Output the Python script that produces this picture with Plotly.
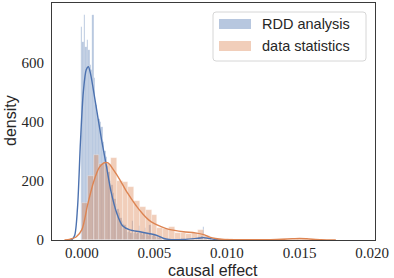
import plotly.graph_objects as go

# ---------------- data ----------------
rdd_bin_start = -0.00007
rdd_bin_width = 0.0001
rdd_density = [718, 670, 760, 650, 675, 640, 590, 575, 760, 546,
               455, 430, 410, 400, 380, 330, 300, 280, 250, 230,
               200, 185, 160, 140, 120, 105, 90, 75, 65, 55,
               50, 35, 28, 30, 22, 64, 25, 30, 20, 24,
               47, 22, 18, 25, 42, 20, 15, 50, 18, 12,
               20, 10, 15, 8, 10, 5, 0, 5, 0, 0,
               4, 0, 0, 0, 5, 0, 0, 0, 0, 4,
               0, 0, 0, 5, 0, 0, 6, 5, 0, 8,
               5, 10, 8, 12, 44, 6, 4]

stats_bin_start = 0.0
stats_bin_width = 0.0004
stats_density = [125, 215, 286, 256, 255, 276, 200, 195, 178, 130,
                 112, 102, 85, 42, 38, 44, 24, 24, 20, 24,
                 34, 15, 3, 2, 0, 2, 0, 0, 0, 0,
                 0, 0, 0, 0, 0, 0, 0, 3, 2]

rdd_kde_x = [-0.0010, -0.0007, -0.0005, -0.0003, -0.0001, 0.0001, 0.0003, 0.00045,
             0.0006, 0.0009, 0.00135, 0.0017, 0.0020, 0.0024, 0.0028, 0.0033,
             0.0040, 0.0046, 0.0052, 0.0056, 0.0060, 0.0070, 0.0080, 0.0084,
             0.0088, 0.0093, 0.0100]
rdd_kde_y = [0, 1, 15, 110, 330, 500, 575, 585,
             560, 475, 340, 247, 165, 91, 48, 34,
             28, 22, 15, 6, 2, 2, 6, 8,
             5, 1, 0]

stats_kde_x = [-0.0012, -0.0008, -0.0004, 0.0000, 0.0004, 0.0008, 0.0012, 0.0015,
               0.0018, 0.0022, 0.0026, 0.0030, 0.0034, 0.0038, 0.0042, 0.0046,
               0.0050, 0.0055, 0.0060, 0.0070, 0.0078, 0.0084, 0.0088, 0.0092,
               0.0098, 0.0110, 0.0130, 0.0145, 0.0150, 0.0155, 0.0165, 0.0175]
stats_kde_y = [0, 3, 10, 35, 120, 195, 245, 260,
               260, 235, 205, 170, 140, 112, 88, 68,
               55, 44, 36, 28, 24, 18, 10, 5,
               2, 1, 1, 4, 5, 4, 1, 0]

series_names = ["RDD analysis", "data statistics"]
x_title = "causal effect"
y_title = "density"
x_ticks = [0.000, 0.005, 0.010, 0.015, 0.020]
y_ticks = [0, 200, 400, 600]

# ---------------- styling ----------------
BLUE = "#4C72B0"
ORANGE = "#DD8452"
BLUE_FILL = "rgba(76,114,176,0.4)"
ORANGE_FILL = "rgba(221,132,82,0.4)"
TXT = "#262626"
SERIF = "'Liberation Serif', 'Times New Roman', serif"
SANS = "'Liberation Sans', Arial, sans-serif"

W, H = 394, 278
L, R, T, B = 52, 19, 3, 38

rdd_x = [rdd_bin_start + rdd_bin_width * (i + 0.5) for i in range(len(rdd_density))]
stats_x = [stats_bin_start + stats_bin_width * (i + 0.5) for i in range(len(stats_density))]

fig = go.Figure()
fig.add_trace(go.Bar(x=rdd_x, y=rdd_density, width=rdd_bin_width,
                     marker=dict(color=BLUE_FILL, line=dict(width=0.3, color="rgba(255,255,255,0.35)")),
                     name=series_names[0], showlegend=False))
fig.add_trace(go.Bar(x=stats_x, y=stats_density, width=stats_bin_width,
                     marker=dict(color=ORANGE_FILL, line=dict(width=0.6, color="rgba(255,255,255,0.5)")),
                     name=series_names[1], showlegend=False))
fig.add_trace(go.Scatter(x=rdd_kde_x, y=rdd_kde_y, mode="lines",
                         line=dict(color=BLUE, width=1.4, shape="spline", smoothing=0.8),
                         showlegend=False, hoverinfo="skip"))
fig.add_trace(go.Scatter(x=stats_kde_x, y=stats_kde_y, mode="lines",
                         line=dict(color=ORANGE, width=1.4, shape="spline", smoothing=0.8),
                         showlegend=False, hoverinfo="skip"))

fig.update_layout(
    width=W, height=H,
    margin=dict(l=L, r=R, t=T, b=B, pad=0),
    paper_bgcolor="white", plot_bgcolor="white",
    barmode="overlay", bargap=0,
    font=dict(family=SERIF, size=15, color=TXT),
)
fig.update_xaxes(
    range=[-0.00206, 0.0202], tickvals=x_ticks, tickformat=".3f",
    showgrid=False, zeroline=False, ticks="", showline=True, mirror=True,
    linecolor="#3a3a3a", linewidth=1.2, automargin=False, ticklabelstandoff=-1,
    tickfont=dict(family=SERIF, size=15, color=TXT),
)
fig.update_yaxes(
    range=[0, 800], tickvals=y_ticks,
    showgrid=False, zeroline=False, ticks="", showline=True, mirror=True,
    linecolor="#3a3a3a", linewidth=1.2, automargin=False, ticklabelstandoff=4,
    tickfont=dict(family=SERIF, size=15, color=TXT),
)

pw, ph = W - L - R, H - T - B
def px(xp):
    return (xp - L) / pw
def py(yp):
    return (H - B - yp) / ph

# axis titles
fig.add_annotation(x=px(213), y=py(270), xref="paper", yref="paper", text=x_title,
                   showarrow=False, xanchor="center", yanchor="middle",
                   font=dict(family=SANS, size=16, color=TXT))
fig.add_annotation(x=px(10), y=py(121), xref="paper", yref="paper", text=y_title,
                   showarrow=False, xanchor="center", yanchor="middle", textangle=-90,
                   font=dict(family=SANS, size=16, color=TXT))

# ---------------- legend (drawn manually, matplotlib style) ----------------
bx0, bx1, by0, by1, rr = 213, 366, 12, 61, 3
path = (f"M {px(bx0+rr)},{py(by0)} L {px(bx1-rr)},{py(by0)} Q {px(bx1)},{py(by0)} {px(bx1)},{py(by0+rr)} "
        f"L {px(bx1)},{py(by1-rr)} Q {px(bx1)},{py(by1)} {px(bx1-rr)},{py(by1)} "
        f"L {px(bx0+rr)},{py(by1)} Q {px(bx0)},{py(by1)} {px(bx0)},{py(by1-rr)} "
        f"L {px(bx0)},{py(by0+rr)} Q {px(bx0)},{py(by0)} {px(bx0+rr)},{py(by0)} Z")
fig.add_shape(type="path", path=path, xref="paper", yref="paper",
              line=dict(color="#d6d6d6", width=1), fillcolor="rgba(255,255,255,0.8)", layer="above")
for i, (col, name) in enumerate([(BLUE_FILL, series_names[0]), (ORANGE_FILL, series_names[1])]):
    cy = 24 + 22 * i
    fig.add_shape(type="rect", xref="paper", yref="paper",
                  x0=px(219), x1=px(251), y0=py(cy - 5), y1=py(cy + 5),
                  fillcolor=col, line=dict(width=0), layer="above")
    fig.add_annotation(x=px(260), y=py(cy), xref="paper", yref="paper", text=name,
                       showarrow=False, xanchor="left", yanchor="middle",
                       font=dict(family=SANS, size=14.5, color=TXT))

fig.write_html("out.html", config={"displayModeBar": False},
               post_script="document.body.style.margin='0';document.body.style.overflow='hidden';")
